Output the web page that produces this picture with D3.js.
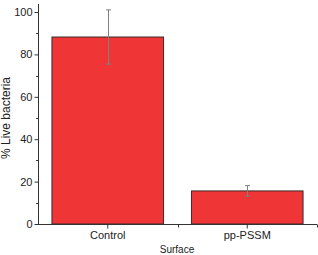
<!DOCTYPE html>
<html><head><meta charset="utf-8">
<script src="https://cdn.jsdelivr.net/npm/d3@7"></script>
<style>body{margin:0;background:#fff}svg{display:block}text{font-family:"Liberation Sans",Arial,sans-serif;fill:#222}</style>
</head><body>
<script>
const categories = ["Control", "pp-PSSM"];
const values = [88.2, 15.6];
const errors = [12.8, 2.5];
const yTicks = [0, 20, 40, 60, 80, 100];
const yMinor = [10, 30, 50, 70, 90];

const W = 318, H = 255;
const svg = d3.select("body").append("svg").attr("width", W).attr("height", H);
const x = d3.scaleBand().domain(categories).range([38, 317]).paddingInner(0.2).paddingOuter(0.1);
const y = d3.scaleLinear().domain([0, 100]).range([224, 12]);

// bars
svg.selectAll("rect.bar").data(values).enter().append("rect")
  .attr("x", (d,i)=>x(categories[i])).attr("width", x.bandwidth())
  .attr("y", d=>y(d)).attr("height", d=>y(0)-y(d))
  .attr("fill", "#ef3535").attr("stroke", "#3a2a2a").attr("stroke-width", 1);

// error bars
const eg = svg.append("g").attr("stroke", "#808080").attr("stroke-width", 1);
values.forEach((v,i)=>{
  const cx = Math.round(x(categories[i]) + x.bandwidth()/2) + 0.5;
  eg.append("line").attr("x1", cx).attr("x2", cx).attr("y1", y(v+errors[i])).attr("y2", y(v-errors[i]));
  [v+errors[i], v-errors[i]].forEach(e=>{
    eg.append("line").attr("x1", cx-2.5).attr("x2", cx+2.5).attr("y1", y(e)).attr("y2", y(e));
  });
});

// y axis
const ya = svg.append("g").attr("transform", "translate(38.5,0)")
  .call(d3.axisLeft(y).tickValues(yTicks).tickSize(4).tickPadding(2));
ya.select(".domain").attr("stroke", "#333").attr("d", `M0,${y(0)}V${y(100)-8}`);
ya.selectAll(".tick line").attr("stroke", "#333");
ya.selectAll(".tick text").attr("font-size", 11).attr("fill", "#222").attr("font-family", '"Liberation Sans",Arial,sans-serif');
svg.append("g").selectAll("line").data(yMinor).enter().append("line")
  .attr("x1", 36).attr("x2", 38.5).attr("y1", d=>Math.round(y(d))+0.5).attr("y2", d=>Math.round(y(d))+0.5)
  .attr("stroke", "#333");

// x axis
const xa = svg.append("g").attr("transform", `translate(0,${y(0)+0.5})`)
  .call(d3.axisBottom(x).tickSize(4).tickPadding(3));
xa.select(".domain").attr("stroke", "#333").attr("d", "M38,0H317");
xa.selectAll(".tick line").attr("stroke", "#333");
xa.selectAll(".tick text").attr("font-size", 11).attr("fill", "#222").attr("font-family", '"Liberation Sans",Arial,sans-serif');
const step = x.step();
const minorX = [x(categories[0]) + x.bandwidth()/2 + step/2, 317];
svg.append("g").selectAll("line").data(minorX).enter().append("line")
  .attr("x1", d=>Math.round(d)+0.5).attr("x2", d=>Math.round(d)+0.5)
  .attr("y1", y(0)+0.5).attr("y2", y(0)+3.5).attr("stroke", "#333");

// axis titles
svg.append("text").attr("x", 177).attr("y", 253).attr("text-anchor", "middle").attr("font-size", 10).text("Surface");
svg.append("text").attr("transform", "translate(10,118) rotate(-90)").attr("text-anchor", "middle").attr("font-size", 12).text("% Live bacteria");
</script>
</body></html>
